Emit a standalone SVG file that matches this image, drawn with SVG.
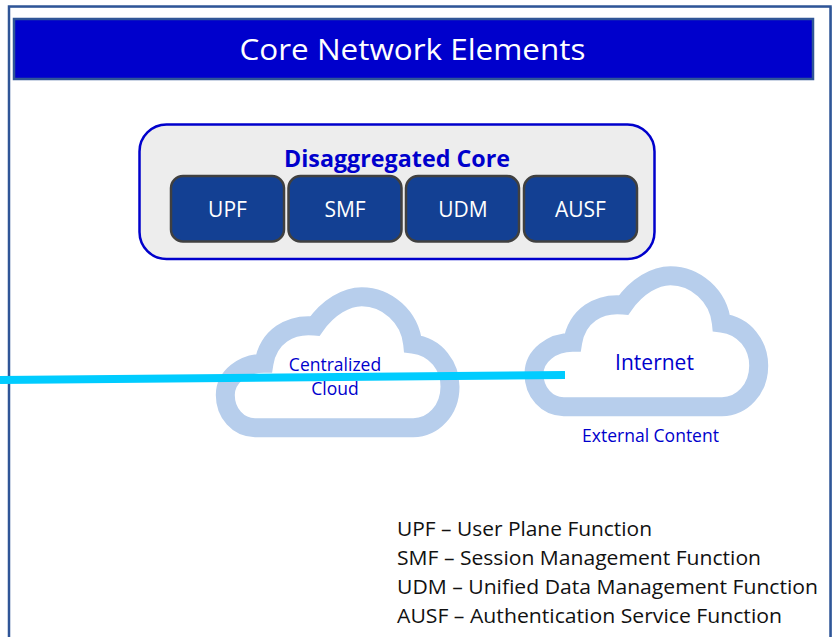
<svg xmlns="http://www.w3.org/2000/svg" xmlns:xlink="http://www.w3.org/1999/xlink" width="836" height="637" viewBox="0 0 836 637">
<style>
text{font-family:"Open Sans","Noto Sans","DejaVu Sans",sans-serif}
.nf{fill:#134093;stroke:#404040;stroke-width:2.5}
.nt{fill:#fff;font-size:21px;text-anchor:middle}
.cl{fill:#fff;stroke:#b7ceec;stroke-width:19;stroke-linejoin:miter}
.bt{fill:#0000cc;text-anchor:middle}
.lg{fill:#111;font-size:20.5px}
</style>
<defs>
<path id="cloud" d="M255 427.7C238.3 427.7 225.3 413.3 225.3 395C225.3 376.7 243.3 363.3 264 363.3C268.3 336.7 290 323.3 315 326C328.3 306.7 346.7 296.7 361.7 296.7C386.7 296.7 410 316.7 412.7 344C436.7 346.7 450 366.7 450 386.7C450 410 433.3 427.7 413.3 427.7Z"/>
</defs>
<rect x="0" y="0" width="836" height="637" fill="#fff"/>
<g id="frame"><path d="M9.5 640V7H831.5V640" fill="none" stroke="#adc0dc" stroke-width="1"/><path d="M9 640V6.500H830.500V640" fill="none" stroke="#2f5597" stroke-width="2.500"/></g>
<g id="title"><rect x="14" y="19" width="799" height="60" fill="#0000cc" stroke="#2f5597" stroke-width="2.500"/><text x="412.500" y="60" fill="#fff" font-size="30" text-anchor="middle" textLength="346" lengthAdjust="spacingAndGlyphs">Core Network Elements</text></g>
<g id="disaggregated-core"><rect x="139.500" y="124.500" width="515" height="134.500" rx="27" fill="#ededed" stroke="#0000cc" stroke-width="2.500"/><text class="bt" x="397" y="167" font-size="23" font-weight="700" textLength="226" lengthAdjust="spacingAndGlyphs">Disaggregated Core</text></g>
<g id="upf"><rect class="nf" x="171" y="176" width="113" height="65.500" rx="12"/><text class="nt" x="227.500" y="217">UPF</text></g>
<g id="smf"><rect class="nf" x="288.500" y="176" width="113" height="65.500" rx="12"/><text class="nt" x="345" y="217">SMF</text></g>
<g id="udm"><rect class="nf" x="406" y="176" width="113" height="65.500" rx="12"/><text class="nt" x="463" y="217">UDM</text></g>
<g id="ausf"><rect class="nf" x="524" y="176" width="113" height="65.500" rx="12"/><text class="nt" x="580.500" y="217">AUSF</text></g>
<g id="centralized-cloud"><use xlink:href="#cloud" href="#cloud" class="cl"/><text class="bt" x="335" y="371" font-size="17.500">Centralized</text><text class="bt" x="335" y="395" font-size="17.500">Cloud</text></g>
<g id="internet"><use xlink:href="#cloud" href="#cloud" class="cl" transform="translate(308.700 -21)"/><text class="bt" x="654.500" y="370" font-size="21">Internet</text><text class="bt" x="650.500" y="442" font-size="17.500">External Content</text></g>
<g id="connectors"><line x1="0" y1="380" x2="565" y2="375" stroke="#00ccff" stroke-width="8"/></g>
<g id="legend"><text class="lg" x="397" y="536" textLength="255" lengthAdjust="spacingAndGlyphs">UPF – User Plane Function</text><text class="lg" x="397" y="565" textLength="364" lengthAdjust="spacingAndGlyphs">SMF – Session Management Function</text><text class="lg" x="397" y="594" textLength="421" lengthAdjust="spacingAndGlyphs">UDM – Unified Data Management Function</text><text class="lg" x="397" y="623" textLength="385" lengthAdjust="spacingAndGlyphs">AUSF – Authentication Service Function</text></g>
</svg>
